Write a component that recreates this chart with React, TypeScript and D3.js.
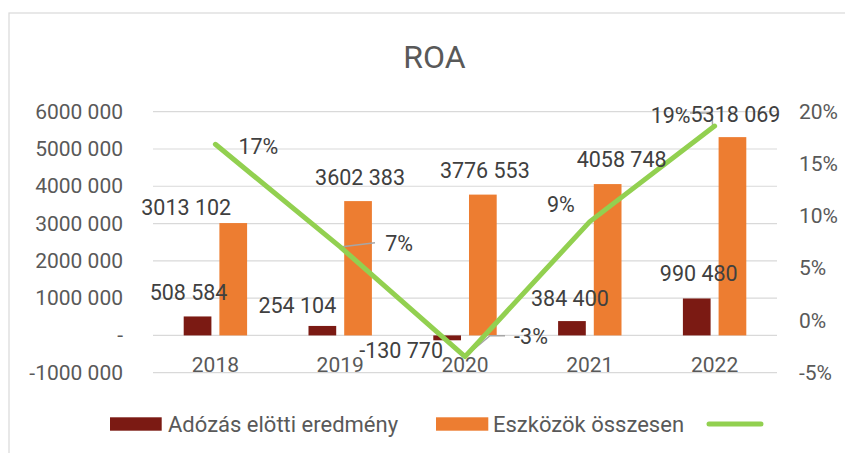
import React from "react";
import * as d3 from "d3";

const years = ["2018", "2019", "2020", "2021", "2022"];
const profit = [508584, 254104, -130770, 384400, 990480];
const assets = [3013102, 3602383, 3776553, 4058748, 5318069];
const roa = [0.1688, 0.0705, -0.0346, 0.0947, 0.1862];
const roaLabels = ["17%", "7%", "-3%", "9%", "19%"];
const leftTicks = [-1000000, 0, 1000000, 2000000, 3000000, 4000000, 5000000, 6000000];
const rightTicks = [-0.05, 0, 0.05, 0.1, 0.15, 0.2];
const seriesNames = ["Adózás elötti eredmény", "Eszközök összesen"];

// label offsets (layout only)
const profitLabelOff = [[-9, -24], [-25, -20], [-46, 10], [-2, -23], [2, -25]];
const assetLabelOff = [[-47, -16], [2, -24], [2, -24], [14, -25], [3, -23]];
const roaLabelOff = [[43, 2], [59, -3], [66, -20], [-29, -17], [-44, -11]];

const W = 845, H = 453;
const FONT = "Roboto, 'Noto Sans', sans-serif";
const DARK = "#7B1A13";
const ORANGE = "#ED7D31";
const GREEN = "#92D050";
const GRID = "#D9D9D9";
const AXIS_TXT = "#595959";
const LBL_TXT = "#404040";

function fmt(v: number): string {
  if (v === 0) return "-";
  const s = v < 0 ? "-" : "";
  const a = Math.abs(v);
  const hi = Math.floor(a / 1000);
  const lo = a % 1000;
  return hi > 0 ? `${s}${hi} ${String(lo).padStart(3, "0")}` : `${s}${lo}`;
}

export default function App() {
  const x = d3.scaleBand<string>().domain(years).range([153, 777]).padding(0);
  const yL = d3.scaleLinear().domain([-1000000, 6000000]).range([372.7, 111.7]);
  const yR = d3.scaleLinear().domain([-0.05, 0.2]).range([372.7, 111.7]);
  const bw = x.bandwidth();
  const barW = bw * 0.222;
  const gap = bw * 0.064;
  const cx = (y: string) => (x(y) as number) + bw / 2;

  const line = d3
    .line<number>()
    .x((_, i) => cx(years[i]))
    .y((d) => yR(d));

  const labelStyle = { fontFamily: FONT, fontSize: 21.5, fill: LBL_TXT } as const;

  const leaders: [number, number][][] = [
    [],
    [[cx(years[1]), yR(roa[1])], [375, 242.7]],
    [[cx(years[2]), yR(roa[2])], [490, 335.7], [505, 335.7]],
    [],
    [[cx(years[4]) - 2, yR(roa[4])], [712, 113], [690, 113]],
  ];

  return (
    <svg width={W} height={H} style={{ position: "absolute", left: 0, top: 0 }}>
      <rect x={0} y={0} width={W} height={H} fill="#fff" />
      <rect x={9} y={13} width={W} height={H} fill="#fff" stroke={GRID} strokeWidth={1.2} />
      <text x={434.5} y={57} textAnchor="middle" dominantBaseline="central" fontFamily={FONT} fontSize={32} fill={AXIS_TXT}>
        ROA
      </text>
      {leftTicks.map((t) => (
        <g key={t}>
          <line x1={153} x2={777} y1={yL(t)} y2={yL(t)} stroke={GRID} strokeWidth={1.2} />
          <text x={123} y={yL(t)} textAnchor="end" dominantBaseline="central" fontFamily={FONT} fontSize={21} fill={AXIS_TXT}>
            {fmt(t)}
          </text>
        </g>
      ))}
      {rightTicks.map((t) => (
        <text key={t} x={799} y={yR(t)} textAnchor="start" dominantBaseline="central" fontFamily={FONT} fontSize={21} fill={AXIS_TXT}>
          {`${Math.round(t * 100)}%`}
        </text>
      ))}
      {years.map((yr) => (
        <text key={yr} x={cx(yr)} y={365} textAnchor="middle" dominantBaseline="central" fontFamily={FONT} fontSize={21} fill={AXIS_TXT}>
          {yr}
        </text>
      ))}
      {years.map((yr, i) => {
        const v = profit[i];
        const x0 = cx(yr) - gap / 2 - barW;
        return (
          <rect key={"p" + yr} x={x0} width={barW} y={Math.min(yL(v), yL(0))} height={Math.abs(yL(v) - yL(0))} fill={DARK} />
        );
      })}
      {years.map((yr, i) => {
        const v = assets[i];
        const x0 = cx(yr) + gap / 2;
        return (
          <rect key={"a" + yr} x={x0} width={barW} y={Math.min(yL(v), yL(0))} height={Math.abs(yL(v) - yL(0))} fill={ORANGE} />
        );
      })}
      {leaders.map((pts, i) =>
        pts.length ? (
          <path key={"l" + i} d={d3.line()(pts) as string} fill="none" stroke="#A6A6A6" strokeWidth={1.5} />
        ) : null
      )}
      <path d={line(roa) as string} fill="none" stroke={GREEN} strokeWidth={5} strokeLinecap="round" strokeLinejoin="round" />
      {years.map((yr, i) => {
        const v = profit[i];
        const bx = cx(yr) - gap / 2 - barW / 2;
        return (
          <text key={"pl" + yr} x={bx + profitLabelOff[i][0]} y={yL(v) + profitLabelOff[i][1]} textAnchor="middle" dominantBaseline="central" {...labelStyle}>
            {fmt(v)}
          </text>
        );
      })}
      {years.map((yr, i) => {
        const v = assets[i];
        const bx = cx(yr) + gap / 2 + barW / 2;
        return (
          <text key={"al" + yr} x={bx + assetLabelOff[i][0]} y={yL(v) + assetLabelOff[i][1]} textAnchor="middle" dominantBaseline="central" {...labelStyle}>
            {fmt(v)}
          </text>
        );
      })}
      {years.map((yr, i) => (
        <text key={"rl" + yr} x={cx(yr) + roaLabelOff[i][0]} y={yR(roa[i]) + roaLabelOff[i][1]} textAnchor="middle" dominantBaseline="central" {...labelStyle}>
          {roaLabels[i]}
        </text>
      ))}
      {/* legend */}
      <rect x={110} y={417.3} width={51.7} height={13.4} fill={DARK} />
      <text x={168} y={424} dominantBaseline="central" fontFamily={FONT} fontSize={22} fill={AXIS_TXT}>
        {seriesNames[0]}
      </text>
      <rect x={436} y={417.3} width={52.3} height={13.4} fill={ORANGE} />
      <text x={493} y={424} dominantBaseline="central" fontFamily={FONT} fontSize={22} fill={AXIS_TXT}>
        {seriesNames[1]}
      </text>
      <line x1={709} x2={761} y1={424} y2={424} stroke={GREEN} strokeWidth={5} strokeLinecap="round" />
    </svg>
  );
}
